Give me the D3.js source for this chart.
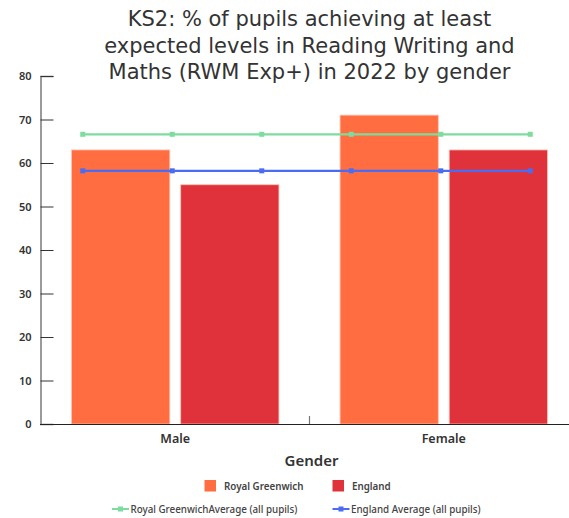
<!DOCTYPE html>
<html lang="en">
<head>
    <meta charset="UTF-8">
    <title>KS2 RWM by gender</title>
    <script src="https://cdn.jsdelivr.net/npm/d3@7"></script>
    <style>
        body { margin: 0; background: #fff; }
        text { font-family: "Noto Sans", sans-serif; fill: #333; }
        .tick text { font-size: 11px; font-weight: 600; }
        .title { font-family: "DejaVu Sans", sans-serif; }
    </style>
</head>
<body>
<script>
    // data
    const genders = ["Male", "Female"]
    const seriesNames = ["Royal Greenwich", "England"]
    const greenwich = [63, 71]
    const england = [55, 63]
    const avgPoints = [0, 1, 2, 3, 4, 5]
    const greenwichAvg = [66.6, 66.6, 66.6, 66.6, 66.6, 66.6]
    const englandAvg = [58.2, 58.2, 58.2, 58.2, 58.2, 58.2]
    const yTicks = [0, 10, 20, 30, 40, 50, 60, 70, 80]
    const titleLines = ["KS2: % of pupils achieving at least",
        "expected levels in Reading Writing and",
        "Maths (RWM Exp+) in 2022 by gender"]

    const barColors = ["#ff6d40", "#df323a"]
    const lineColors = ["#7ddc9e", "#4a6cf3"]

    const width = 569, height = 518
    const plotLeft = 41, plotRight = 578, plotTop = 76, plotBottom = 424

    const svg = d3.select("body").append("svg").attr("width", width).attr("height", height)

    const x = d3.scaleBand().domain(genders).range([plotLeft, plotRight])
    const xInner = d3.scaleBand().domain(seriesNames).range([0, x.bandwidth()]).paddingInner(0.1).paddingOuter(0.28)
    const xPts = d3.scaleBand().domain(avgPoints).range([38, 575])
    const y = d3.scaleLinear().domain([0, 80]).range([plotBottom, plotTop])

    // title
    svg.append("text")
        .attr("class", "title")
        .attr("text-anchor", "middle")
        .style("font-size", "21px")
        .selectAll("tspan").data(titleLines).join("tspan")
        .attr("x", (plotLeft + plotRight) / 2)
        .attr("y", (d, i) => 26 + i * 26.5)
        .text(d => d)

    // bars
    const rows = genders.map((g, i) => ({gender: g, values: [greenwich[i], england[i]]}))
    svg.append("g").selectAll("g").data(rows).join("g")
        .attr("transform", d => `translate(${x(d.gender)},0)`)
        .selectAll("rect").data(d => d.values.map((v, j) => ({name: seriesNames[j], v: v, j: j})))
        .join("rect")
        .attr("x", d => xInner(d.name))
        .attr("width", xInner.bandwidth())
        .attr("y", d => y(d.v))
        .attr("height", d => y(0) - y(d.v))
        .attr("fill", d => barColors[d.j])
        .attr("stroke", "#ffc0b0")
        .attr("stroke-width", 0.8)

    // y axis
    const yAxis = svg.append("g").attr("transform", `translate(${plotLeft - 0.5},0)`)
        .call(d3.axisRight(y).tickValues(yTicks).tickSize(13).tickFormat(d3.format("d")))
    yAxis.select(".domain").attr("stroke", "#7a7a7a").attr("stroke-width", 1.5)
    yAxis.selectAll(".tick line").attr("stroke", "#333")
    yAxis.selectAll(".tick text").attr("x", -9).attr("text-anchor", "end").attr("dy", "0.32em")

    // x axis
    svg.append("line").attr("x1", plotLeft - 1).attr("x2", width).attr("y1", plotBottom + 0.5).attr("y2", plotBottom + 0.5)
        .attr("stroke", "#222").attr("stroke-width", 1.2)
    svg.append("line").attr("x1", x("Female")).attr("x2", x("Female"))
        .attr("y1", plotBottom).attr("y2", plotBottom - 8).attr("stroke", "#777").attr("stroke-width", 1.2)
    svg.append("g").selectAll("text").data(genders).join("text")
        .attr("x", d => x(d) + x.bandwidth() / 2)
        .attr("y", 443)
        .attr("text-anchor", "middle")
        .style("font-size", "12.5px").style("font-weight", 600)
        .text(d => d)
    svg.append("text").attr("x", (plotLeft + plotRight) / 2 + 2).attr("y", 466)
        .attr("text-anchor", "middle")
        .style("font-size", "15px").style("font-weight", 600)
        .text("Gender")

    // average lines
    const line = d3.line().x((d, i) => xPts(i) + xPts.bandwidth() / 2).y(d => y(d))
    ;[greenwichAvg, englandAvg].forEach(function (s, k) {
        const g = svg.append("g")
        g.append("path").datum(s).attr("d", line).attr("fill", "none")
            .attr("stroke", lineColors[k]).attr("stroke-width", 2.2)
        g.selectAll("rect").data(s).join("rect")
            .attr("x", (d, i) => xPts(i) + xPts.bandwidth() / 2 - 2.5)
            .attr("y", d => y(d) - 2.5)
            .attr("width", 5).attr("height", 5)
            .attr("fill", lineColors[k])
    })

    // legend
    const leg1 = svg.append("g").selectAll("g").data(seriesNames).join("g")
        .attr("transform", (d, i) => `translate(${[204.5, 332.5][i]},480)`)
    leg1.append("rect").attr("width", 11.5).attr("height", 11.5).attr("fill", (d, i) => barColors[i])
    leg1.append("text").attr("x", 19.5).attr("y", 9.5)
        .style("font-size", "9.8px").style("font-weight", 600).style("fill", "#444")
        .text(d => d)

    const avgNames = ["Royal GreenwichAverage (all pupils)", "England Average (all pupils)"]
    const leg2 = svg.append("g").selectAll("g").data(avgNames).join("g")
        .attr("transform", (d, i) => `translate(${[112, 332.5][i]},509)`)
    leg2.append("line").attr("x1", 0).attr("x2", 17).attr("stroke", (d, i) => lineColors[i]).attr("stroke-width", 2)
    leg2.append("rect").attr("x", 6).attr("y", -2.5).attr("width", 5).attr("height", 5).attr("fill", (d, i) => lineColors[i])
    leg2.append("text").attr("x", 18.5).attr("y", 3.5)
        .style("font-size", "9.8px").style("font-weight", 500).style("fill", "#444")
        .text(d => d)
</script>
</body>
</html>
